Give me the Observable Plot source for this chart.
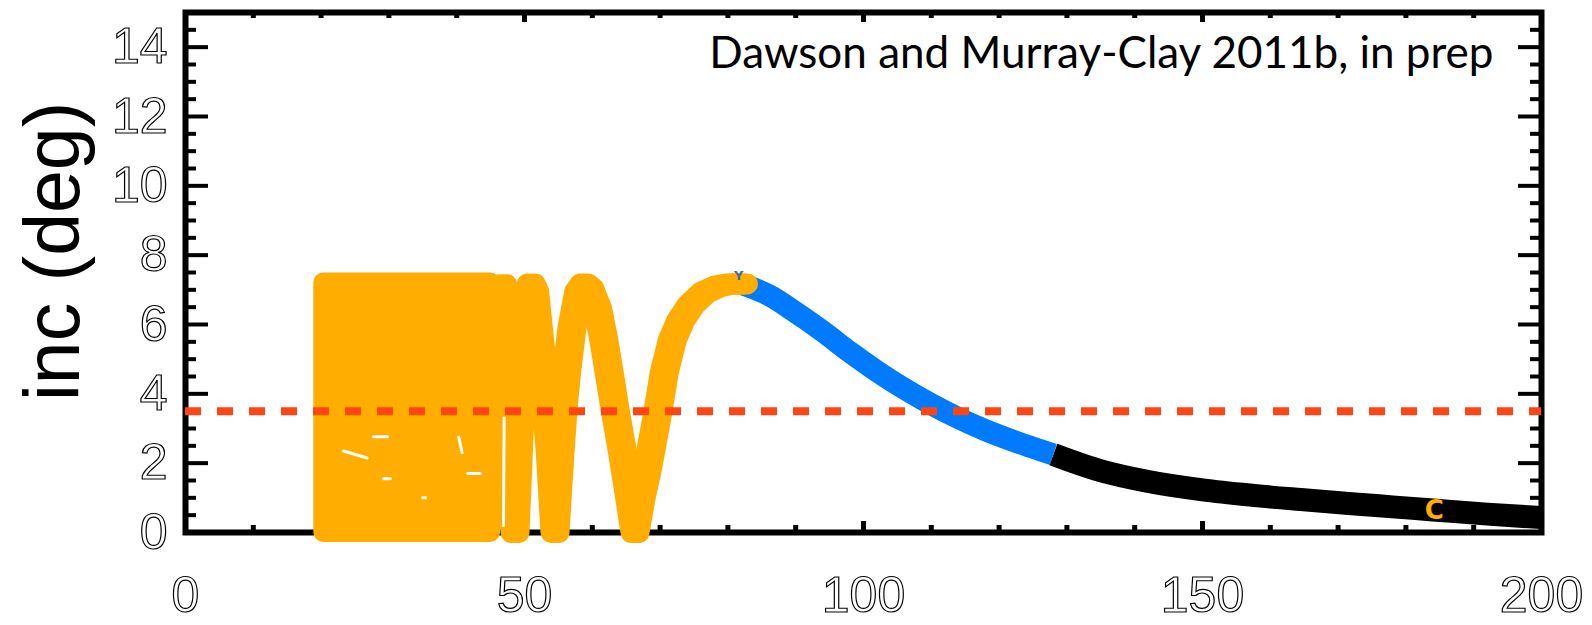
<!DOCTYPE html>
<html><head><meta charset="utf-8">
<script src="https://cdn.jsdelivr.net/npm/d3@7"></script>
<script src="https://cdn.jsdelivr.net/npm/@observablehq/plot@0.6"></script>
<style>
html,body{margin:0;padding:0;background:#fff;}
#chart svg{display:block;overflow:visible;}
g[aria-label="y-axis tick label"] text, g[aria-label="x-axis tick label"] text {fill:#fff; stroke:#000; stroke-width:1.2px;}
</style></head><body><div id="chart"></div>
<script>
// ---- layout ----
const W = 1592, H = 625, ML = 185, MR = 51, MT = 12, MB = 93;
const FW = W - ML - MR, FH = H - MT - MB;

// ---- axes ----
const xDomain = [0, 200];
const yDomain = [0, 15];
const xMajor = [0, 50, 100, 150, 200];
const xMinor = [10, 20, 30, 40, 60, 70, 80, 90, 110, 120, 130, 140, 160, 170, 180, 190];
const yMajor = [0, 2, 4, 6, 8, 10, 12, 14];
const yMinor = d3.range(0, 15.01, 0.5).filter(v => v % 2 !== 0);
const yLabel = "inc (deg)";
const note = "Dawson and Murray-Clay 2011b, in prep";

// ---- data ----
// chaotic phase: densely filled orange block (x range, inclination range)
const blockX = [20.4, 45.0];
const blockY = [0, 7.2];
// small empty gaps inside the chaotic block (x1, x2, y1, y2)
const gapX1 = [27.7, 23.3, 29.2, 41.6, 40.3, 46.9, 35.0];
const gapX2 = [29.8, 26.8, 30.2, 43.5, 40.8, 47.0, 35.4];
const gapY1 = [2.76, 2.35, 1.55, 1.70, 2.75, 0.2, 1.0];
const gapY2 = [2.76, 2.15, 1.55, 1.70, 2.30, 3.3, 1.0];
// orange oscillating phase
const orangeX = [46.8, 47.8, 48.6, 49.2, 50.0, 50.6, 51.0, 51.5, 52.2, 53.0, 53.8, 54.5, 55.2, 55.7, 56.2, 57.0, 58.0, 58.8, 59.6, 60.8, 61.7, 62.5, 63.4, 64.3, 65.2, 66.3, 67.2, 68.1, 69.7, 70.6, 71.8, 73.0, 74.5, 76.5, 78.5, 80.3, 82.3];
const orangeY = [7.15, 3.6, 0.0, 2.8, 5.6, 6.95, 7.17, 6.95, 5.6, 4.3, 2.3, 0.0, 2.2, 3.6, 4.6, 5.9, 6.95, 7.17, 7.05, 6.45, 5.55, 4.6, 3.5, 2.5, 1.4, 0.0, 1.0, 1.8, 3.5, 4.6, 5.55, 6.1, 6.55, 6.92, 7.1, 7.17, 7.17];
// blue decaying phase
const blueX = [82.3, 86.0, 90.0, 94.0, 98.0, 102.0, 106.0, 110.0, 114.0, 118.0, 122.0, 126.0, 128.0];
const blueY = [7.15, 6.85, 6.35, 5.8, 5.2, 4.65, 4.15, 3.7, 3.3, 2.95, 2.65, 2.38, 2.25];
// black late phase
const blackX = [128.0, 135.0, 142.0, 150.0, 157.0, 164.5, 172.0, 178.0, 184.0, 192.0, 200.0];
const blackY = [2.25, 1.78, 1.47, 1.23, 1.08, 0.95, 0.83, 0.74, 0.65, 0.53, 0.43];
// threshold
const threshold = [3.5];
// small symbols on the track
const symbols = [
  {x: 81.6, y: 7.4, t: "Y", c: "#3d6fa3", s: 13},
  {x: 184.2, y: 0.63, t: "C", c: "#ffad00", s: 26}
];

const orange = "#ffad00", blue = "#007bff", red = "#ff4512";

// a thick symbol track: the same line drawn with a small horizontal spread
const track = (xs, ys, color, sw, spread, extra = {}) => [-spread, 0, spread].map(dx =>
  Plot.line(ys, {x: xs, y: ys, dx, stroke: color, strokeWidth: sw, strokeLinecap: "butt", strokeLinejoin: "round", ...extra}));

const plot = Plot.plot({
  width: W, height: H,
  marginLeft: ML, marginRight: MR, marginTop: MT, marginBottom: MB,
  x: {domain: xDomain, label: null},
  y: {domain: yDomain, label: null},
  style: {background: "#fff", color: "#000"},
  marks: [
    // tick labels
    Plot.axisY({ticks: yMajor, tickSize: 0, tickPadding: 18, fontSize: 50, fontFamily: "Liberation Sans", label: null}),
    Plot.axisX({ticks: xMajor, tickSize: 0, tickPadding: 44, fontSize: 50, fontFamily: "Liberation Sans", label: null}),
    // ticks (inward) on all four sides
    Plot.tickY(yMajor, {y: d => d, stroke: "#000", strokeWidth: 4, insetRight: FW - 23}),
    Plot.tickY(yMinor, {y: d => d, stroke: "#000", strokeWidth: 4, insetRight: FW - 11}),
    Plot.tickY(yMajor, {y: d => d, stroke: "#000", strokeWidth: 4, insetLeft: FW - 23}),
    Plot.tickY(yMinor, {y: d => d, stroke: "#000", strokeWidth: 4, insetLeft: FW - 11}),
    Plot.tickX(xMajor, {x: d => d, stroke: "#000", strokeWidth: 5, insetTop: FH - 11}),
    Plot.tickX(xMinor, {x: d => d, stroke: "#000", strokeWidth: 5, insetTop: FH - 7}),
    Plot.tickX(xMajor, {x: d => d, stroke: "#000", strokeWidth: 5, insetBottom: FH - 10}),
    Plot.tickX(xMinor, {x: d => d, stroke: "#000", strokeWidth: 5, insetBottom: FH - 6}),
    Plot.frame({stroke: "#000", strokeWidth: 6}),
    // tracks
    Plot.line(blackY, {x: blackX, y: blackY, curve: "monotone-x", stroke: "#000", strokeWidth: 23, strokeLinecap: "butt", strokeLinejoin: "round"}),
    Plot.line(blueY, {x: blueX, y: blueY, curve: "monotone-x", stroke: blue, strokeWidth: 22, strokeLinecap: "butt", strokeLinejoin: "round"}),
    Plot.rect([0], {x1: [blockX[0]], x2: [blockX[1]], y1: [blockY[0]], y2: [blockY[1]], fill: orange, stroke: orange, strokeWidth: 20, strokeLinejoin: "round"}),
    ...track(orangeX, orangeY, orange, 21, 4, {strokeLinecap: "round"}),
    Plot.link(gapX1, {x1: gapX1, x2: gapX2, y1: gapY1, y2: gapY2, stroke: "#fff", strokeWidth: 3, strokeLinecap: "round"}),
    Plot.text(symbols, {x: "x", y: "y", text: "t", fill: "c", fontSize: "s", fontWeight: "bold", fontFamily: "DejaVu Sans"}),
    // threshold
    Plot.ruleY(threshold, {stroke: red, strokeWidth: 8, strokeDasharray: "16,16"}),
    // labels
    Plot.text([yLabel], {text: d => d, frameAnchor: "top-left", dx: -107, dy: 239, rotate: -90, textAnchor: "middle", lineAnchor: "bottom", fontSize: 77, fontFamily: "Liberation Sans", fill: "#000"}),
    Plot.text([note], {text: d => d, frameAnchor: "top-right", dx: -48, dy: 55, textAnchor: "end", lineAnchor: "bottom", fontSize: 44, fontFamily: "Lato", fill: "#000"})
  ]
});
document.getElementById("chart").append(plot);
</script></body></html>
